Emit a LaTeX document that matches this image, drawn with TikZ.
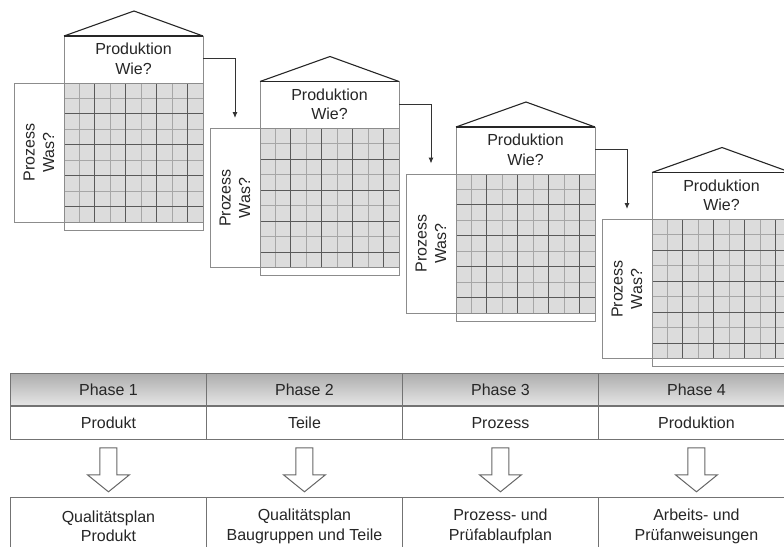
\documentclass[tikz,border=0pt]{standalone}
\usepackage{fontspec}
\setmainfont{Liberation Sans}
\usetikzlibrary{arrows.meta,calc}
\definecolor{linie}{HTML}{8C8C8C}
\definecolor{raster}{HTML}{DCDCDC}
\definecolor{schrift}{HTML}{262626}
\tikzset{
  txt/.style={font=\fontsize{16}{19.5}\selectfont, text=schrift, align=center},
  kasten/.style={draw=linie, line width=0.9pt, fill=white, inner sep=0pt},
  zelle/.style={kasten, txt, draw=black!55, minimum width=196pt, minimum height=33pt},
  pfeil/.style={draw=black!80, line width=1pt, -{Latex[length=6pt,width=5pt]}},
  hohl/.style={draw=black!60, line width=1pt, fill=white}
}
\begin{document}
\begin{tikzpicture}[x=1pt, y=-1pt]
\useasboundingbox (0,0) rectangle (784,546);
\clip (0,0) rectangle (784,546);
\foreach \i in {0,...,3} {
  \begin{scope}[shift={(196*\i,45.5*\i)}]
    \node[kasten, minimum width=50pt, minimum height=139pt] (was\i) at (39,152.5) {};
    \node[txt, rotate=90] at (was\i.center) {Prozess\\Was?};
    \node[kasten, minimum width=139pt, minimum height=194pt] (haus\i) at (133.5,133) {};
    \node[txt, minimum width=139pt, minimum height=46pt, inner sep=0pt, anchor=north] (wie\i) at (haus\i.north) {Produktion\\Wie?};
    \fill[raster] (64,83) rectangle (203,222);
    \foreach \k in {1,3,5,7} {
      \draw[black!35, line width=0.9pt] (64+139*\k/9,83) -- (64+139*\k/9,222);
      \draw[black!35, line width=0.9pt] (64,83+139*\k/9) -- (203,83+139*\k/9);
    }
    \foreach \k in {2,4,6,8} {
      \draw[black!65, line width=1pt] (64+139*\k/9,83) -- (64+139*\k/9,222);
      \draw[black!65, line width=1pt] (64,83+139*\k/9) -- (203,83+139*\k/9);
    }
    \draw[black!45, line width=0.9pt] (64,83) rectangle (203,222);
    \draw[black!85, line width=1.1pt] (64,36) -- (134,11) -- (203,36);
    \draw[black!85, line width=1.6pt] (64,36) -- (203,36);
  \end{scope}
}
\foreach \i/\j in {0/1,1/2,2/3}
  \draw[pfeil] (wie\i.east) -| ([yshift=10pt]was\j.north);
\foreach \obj/\plan [count=\c] in {Produkt/{Qualitätsplan\\Produkt}, Teile/{Qualitätsplan\\Baugruppen und Teile}, Prozess/{Prozess- und\\Prüfablaufplan}, Produktion/{Arbeits- und\\Prüfanweisungen}} {
  \node[zelle, top color=black!32, bottom color=black!10, minimum height=32pt, anchor=north west] (phase\c) at (10+196*\c-196,373) {Phase \c};
  \node[zelle, anchor=north] (obj\c) at (phase\c.south) {\obj};
  \node[zelle, minimum height=58pt, anchor=north] (plan\c) at ($(obj\c.south)+(0,57)$) {\plan};
  \draw[hohl] ($(obj\c.south)+(-8.5,8)$) -- ++(0,27) -- ++(-12.5,0) -- ++(21,17) -- ++(21,-17) -- ++(-12.5,0) -- ++(0,-27) -- cycle;
}
\end{tikzpicture}
\end{document}
